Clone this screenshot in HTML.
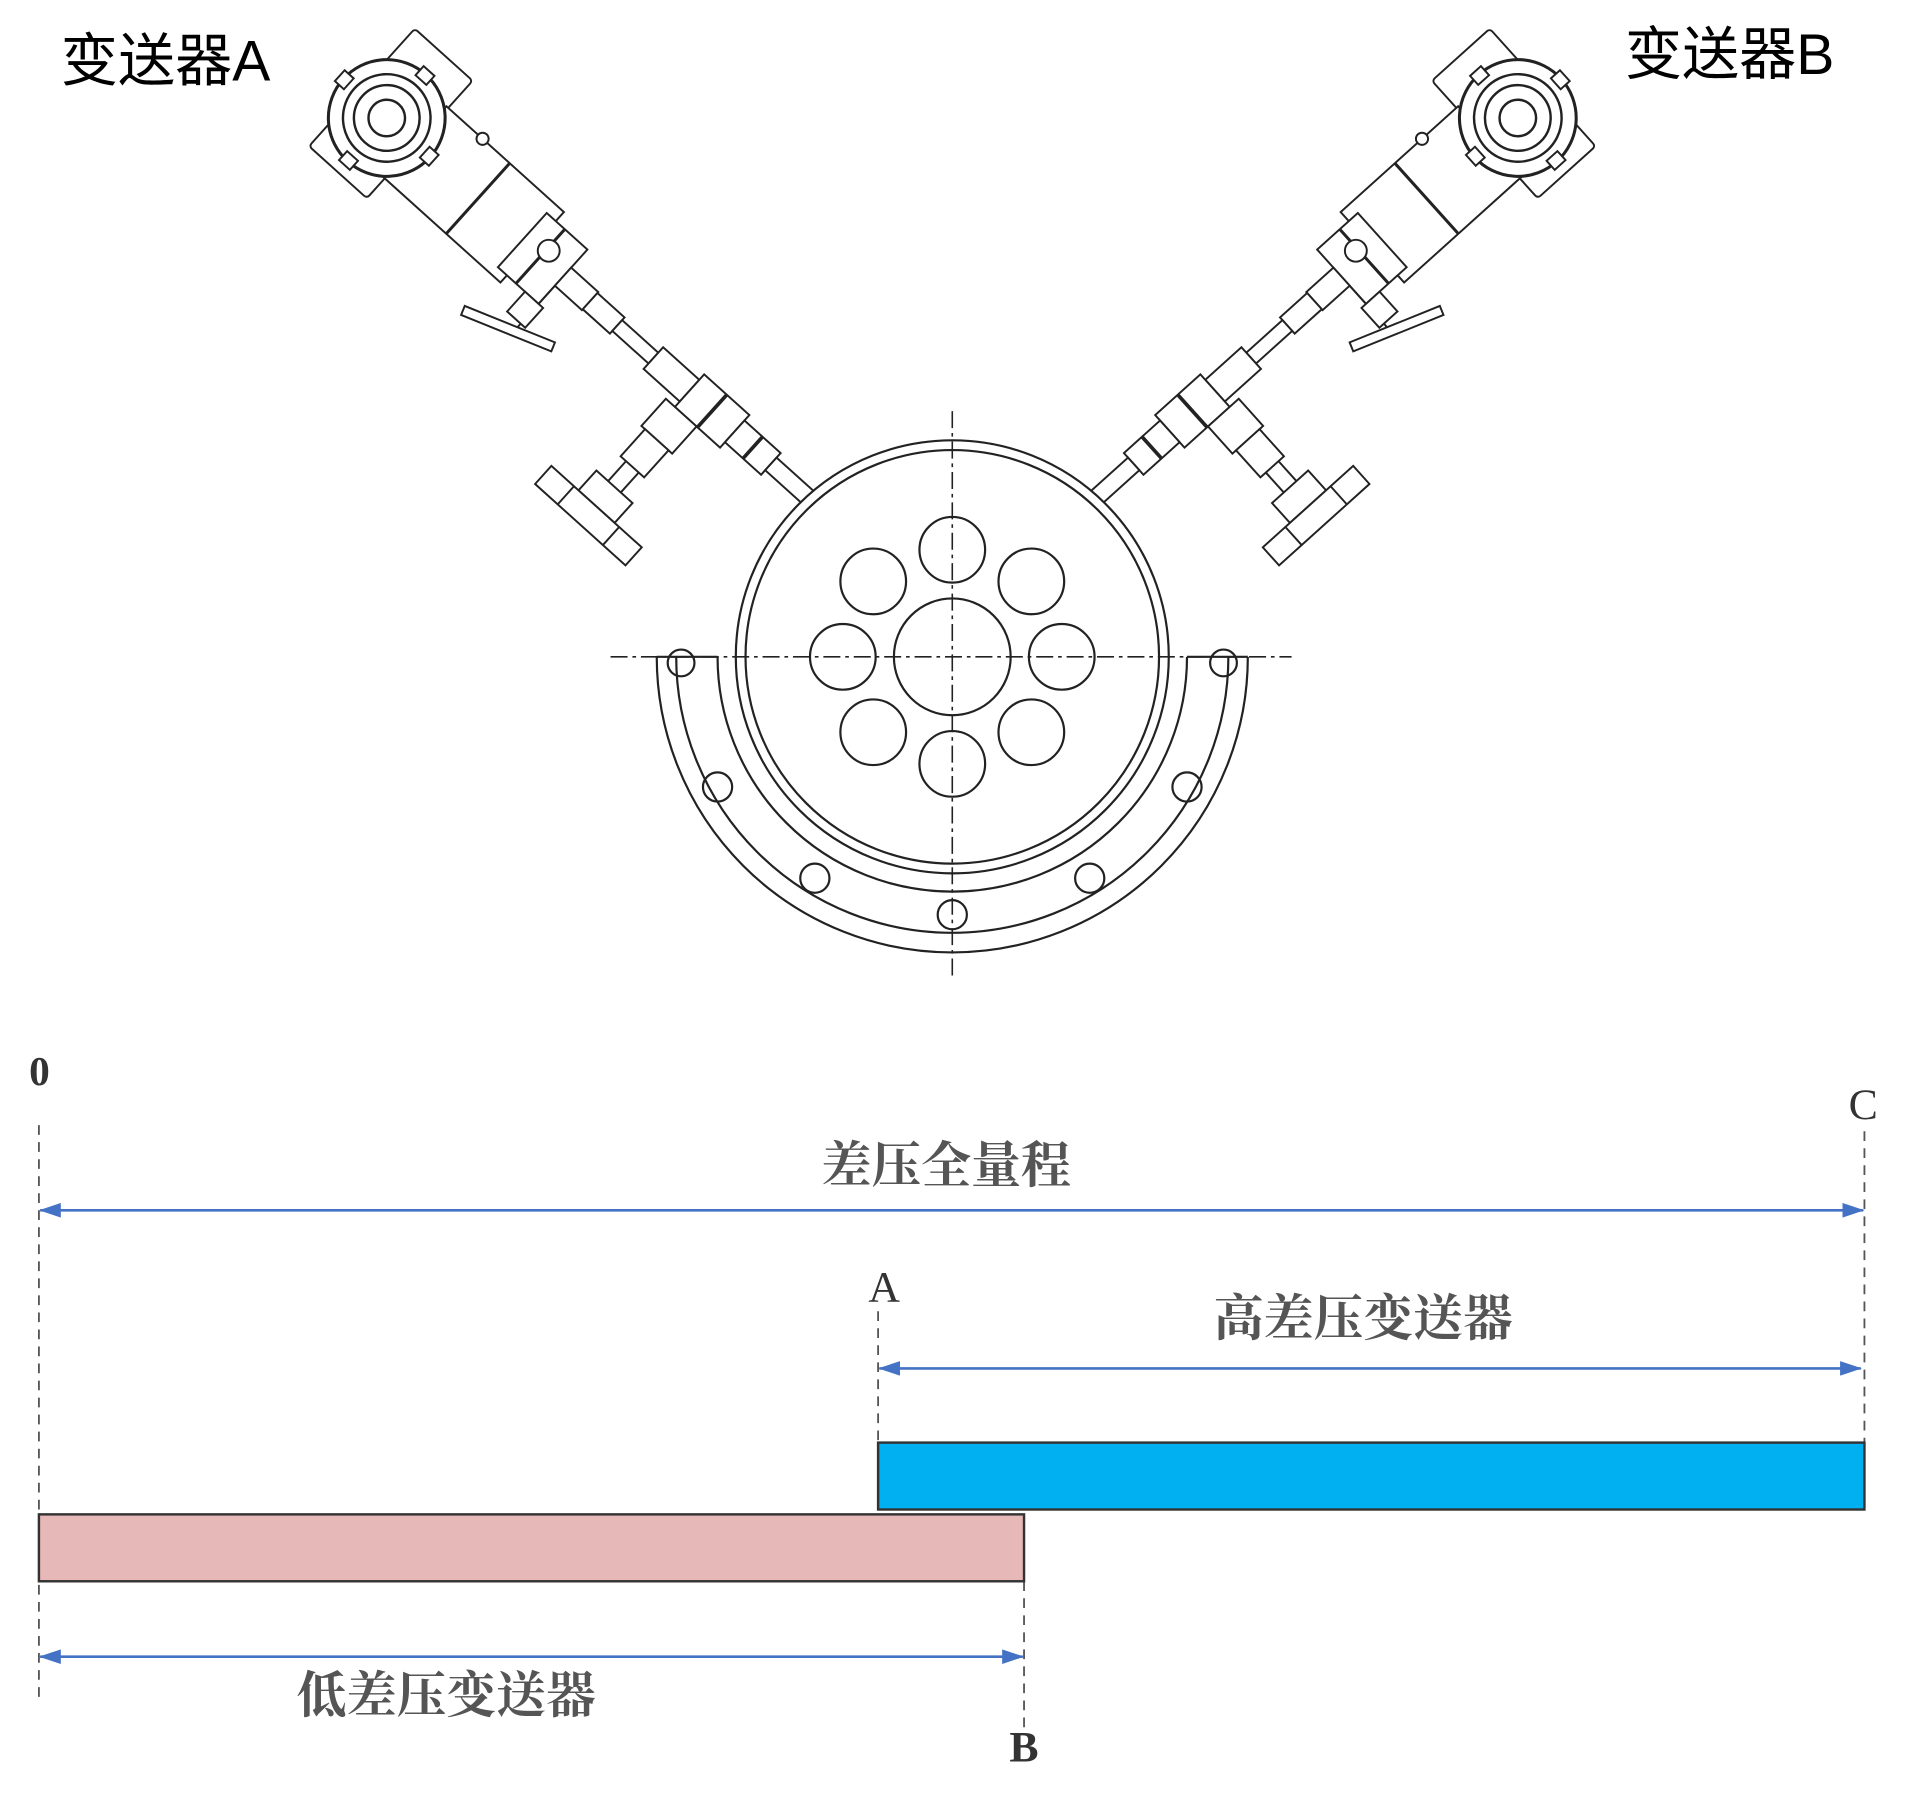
<!DOCTYPE html>
<html><head><meta charset="utf-8"><style>
html,body{margin:0;padding:0;background:#fff}
svg{display:block}
text{font-family:"Liberation Serif","Noto Serif CJK SC",serif}
.s{font-family:"Liberation Sans","Noto Sans CJK SC",sans-serif}
</style></head><body>
<svg width="1907" height="1799" viewBox="0 0 1568 1479" preserveAspectRatio="none" xmlns="http://www.w3.org/2000/svg">
<defs>
<marker id="ar" markerWidth="18" markerHeight="12" refX="17" refY="6" orient="auto-start-reverse" markerUnits="userSpaceOnUse">
<path d="M0,0 L18,6 L0,12 z" fill="#4472c4"/></marker>
<g id="tx" fill="#fff" stroke="#222" stroke-width="1.6">
 <rect x="-32" y="-70" width="64" height="130" rx="3"/>
 <rect x="30" y="-40" width="130" height="78"/>
 <line x1="100" y1="-40" x2="100" y2="38" stroke-width="2.5"/>
 <rect x="150" y="-30" width="45" height="60"/>
 <line x1="170" y1="-30" x2="170" y2="30" stroke-width="2.5"/>
 <circle cx="70" cy="-40" r="5"/>
 <circle cx="172" cy="-8" r="9"/>
 <circle cx="0" cy="0" r="48" stroke-width="2.5"/>
 <circle cx="0" cy="0" r="36" stroke-width="2"/>
 <circle cx="0" cy="0" r="27" stroke-width="2"/>
 <circle cx="0" cy="0" r="15" stroke-width="2"/>
 <rect x="-6" y="-52" width="12" height="10"/><rect x="-6" y="42" width="12" height="10"/>
 <rect x="-52" y="-6" width="10" height="12"/><rect x="42" y="-6" width="10" height="12"/>
 <rect x="195" y="-10" width="30" height="20"/>
 <line x1="195" y1="10" x2="195" y2="60"/>
 <rect x="180" y="30" width="20" height="22"/>
 <rect x="150" y="58" width="80" height="8" transform="rotate(-20 190 62)"/>
 <rect x="225" y="-9" width="30" height="18"/>
 <rect x="255" y="-6" width="40" height="12"/>
 <rect x="295" y="-12" width="40" height="24"/>
 <rect x="335" y="-18" width="50" height="36"/>
 <line x1="360" y1="-18" x2="360" y2="18" stroke-width="3"/>
 <rect x="385" y="-12" width="40" height="24"/>
 <line x1="405" y1="-12" x2="405" y2="12" stroke-width="3"/>
 <rect x="425" y="-7" width="60" height="14"/>
 <rect x="325" y="18" width="34" height="30"/>
 <rect x="329" y="48" width="26" height="30"/>
 <line x1="335" y1="78" x2="335" y2="100"/><line x1="349" y1="78" x2="349" y2="100"/>
 <rect x="322" y="100" width="40" height="22"/>
 <rect x="292" y="122" width="100" height="20"/>
 <line x1="317" y1="122" x2="317" y2="142"/><line x1="367" y1="122" x2="367" y2="142"/>
</g>
</defs>
<rect width="1568" height="1479" fill="#fff"/>

<use href="#tx" transform="translate(318,97) rotate(42)"/>
<g transform="translate(1566,0) scale(-1,1)"><use href="#tx" transform="translate(318,97) rotate(42)"/></g>

<g fill="none" stroke="#222" stroke-width="1.8">
 <path d="M540,540 A243,243 0 0 0 1026,540"/>
 <path d="M556,540 A227,227 0 0 0 1010,540"/>
 <path d="M590,540 A193,193 0 0 0 976,540"/>
 <line x1="540" y1="540" x2="590" y2="540"/><line x1="976" y1="540" x2="1026" y2="540"/>
 <circle cx="560" cy="545" r="11"/><circle cx="1006" cy="545" r="11"/>
 <circle cx="590" cy="647" r="12"/><circle cx="976" cy="647" r="12"/>
 <circle cx="670" cy="722" r="12"/><circle cx="896" cy="722" r="12"/>
 <circle cx="783" cy="752" r="12"/>
 <circle cx="783" cy="540" r="178" fill="#fff"/>
 <circle cx="783" cy="540" r="170"/>
 <circle cx="783" cy="540" r="48"/>
 <circle cx="783" cy="452" r="27"/><circle cx="848" cy="478" r="27"/>
 <circle cx="873" cy="540" r="27"/><circle cx="848" cy="602" r="27"/>
 <circle cx="783" cy="628" r="27"/><circle cx="718" cy="602" r="27"/>
 <circle cx="693" cy="540" r="27"/><circle cx="718" cy="478" r="27"/>
</g>
<g stroke="#222" stroke-width="1.3" stroke-dasharray="14,4,3,4">
 <line x1="783" y1="338" x2="783" y2="805"/>
 <line x1="502" y1="540" x2="1062" y2="540"/>
</g>

<text class="s" x="50" y="66" font-size="47">变送器A</text>
<text class="s" x="1336" y="61" font-size="47">变送器B</text>

<g stroke="#555" stroke-width="1.5" stroke-dasharray="8,6">
 <line x1="32" y1="925" x2="32" y2="1400"/>
 <line x1="1533" y1="930" x2="1533" y2="1186"/>
 <line x1="722" y1="1078" x2="722" y2="1186"/>
 <line x1="842" y1="1300" x2="842" y2="1420"/>
</g>
<g stroke="#4472c4" stroke-width="2.2" marker-start="url(#ar)" marker-end="url(#ar)">
 <line x1="33" y1="995" x2="1532" y2="995"/>
 <line x1="723" y1="1125" x2="1530" y2="1125"/>
 <line x1="33" y1="1362" x2="841" y2="1362"/>
</g>
<rect x="722" y="1186" width="811" height="55" fill="#00b0f0" stroke="#333" stroke-width="2"/>
<rect x="32" y="1245" width="810" height="55" fill="#e6b9b8" stroke="#333" stroke-width="2"/>

<text x="24" y="892" font-size="34" font-weight="bold" fill="#333">0</text>
<text x="1520" y="920" font-size="36" fill="#333">C</text>
<text x="778" y="972" font-size="41" text-anchor="middle" fill="#555" font-weight="bold">差压全量程</text>
<text x="714" y="1070" font-size="36" fill="#333">A</text>
<text x="1121" y="1098" font-size="41" text-anchor="middle" fill="#555" font-weight="bold">高差压变送器</text>
<text x="367" y="1408" font-size="41" text-anchor="middle" fill="#555" font-weight="bold">低差压变送器</text>
<text x="830" y="1448" font-size="36" fill="#333" font-weight="bold">B</text>
</svg>
</body></html>
